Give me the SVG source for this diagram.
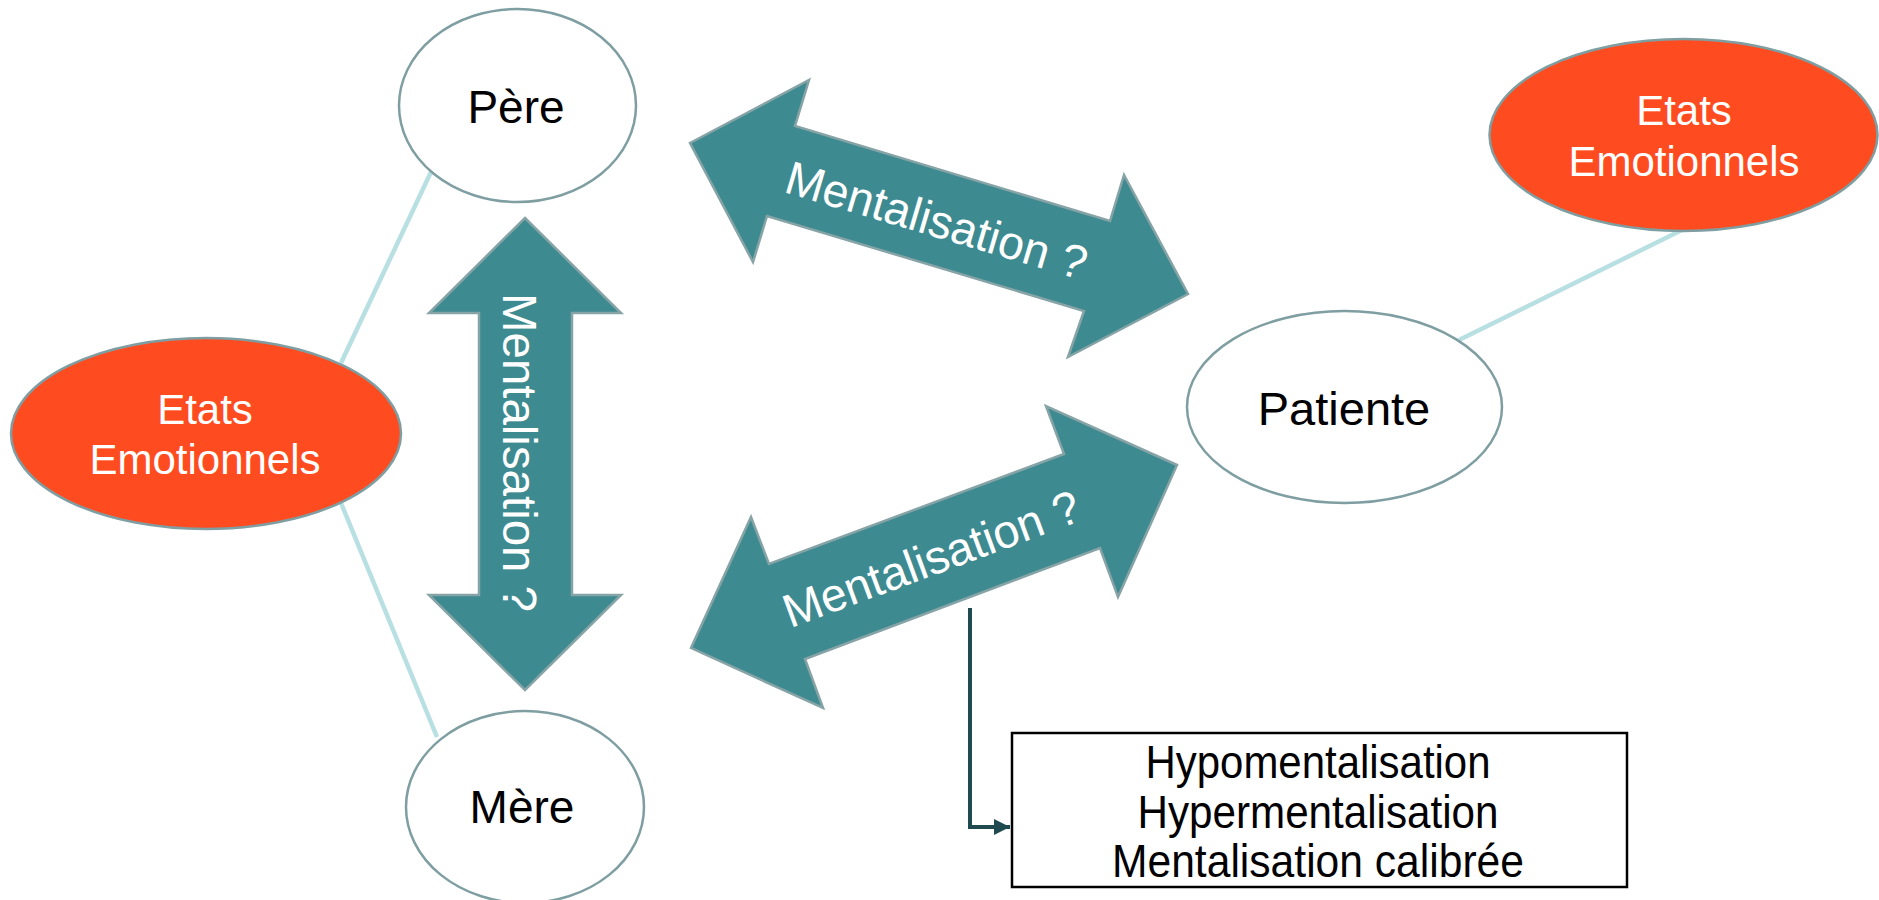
<svg xmlns="http://www.w3.org/2000/svg" width="1879" height="900" viewBox="0 0 1879 900">
<defs>
<style>
.bg{fill:#ffffff}
.node{fill:#ffffff;stroke:#7f9ea2;stroke-width:2.5}
.emo{fill:#ff4b20;stroke:#7f9ea2;stroke-width:2.5}
.link{stroke:#b8e0e3;stroke-width:4.5;fill:none}
.big{fill:#3e8a91;stroke:#86a3a6;stroke-width:2.5;stroke-linejoin:miter}
.t{font-family:"Liberation Sans",Arial,sans-serif;text-anchor:middle}
.dark{fill:#000000}
.white{fill:#ffffff}
.conn{stroke:#1f4a50;stroke-width:4;fill:none}
.box{fill:#ffffff;stroke:#000000;stroke-width:2.5}
</style>
<marker id="ah" viewBox="0 0 10 10" refX="10" refY="5" markerWidth="4.5" markerHeight="4" markerUnits="strokeWidth" orient="auto">
<path d="M0,0 L10,5 L0,10 z" fill="#1f4a50"/>
</marker>
</defs>
<rect class="bg" x="0" y="0" width="1879" height="900"/>

<g id="connectors">
<line class="link" x1="431" y1="172" x2="341" y2="363"/>
<line class="link" x1="341" y1="503" x2="437" y2="737"/>
<line class="link" x1="1684" y1="229" x2="1459" y2="340"/>

<g id="arrow-pere-mere">
<polygon class="big" points="525,218 621,313 572,313 572,595 621,595 525,690 429,595 479,595 479,313 429,313"/>
<text class="t white" font-size="48" transform="translate(503,452.5) rotate(90)" textLength="319" lengthAdjust="spacingAndGlyphs">Mentalisation ?</text>
</g>
<g id="arrow-pere-patiente">
<polygon class="big" points="690,143 809,80 795,126 1110,221 1124,175 1188,294 1068,357 1084,311 767,216 753,262"/>
<text class="t white" font-size="47" transform="translate(932,236) rotate(16.5)" textLength="312" lengthAdjust="spacingAndGlyphs">Mentalisation ?</text>
</g>
<g id="arrow-mere-patiente">
<polygon class="big" points="1177,465 1046,406 1064,454 769,564 751,517 691,648 823,708 805,659 1100,548 1118,597"/>
<text class="t white" font-size="47" transform="translate(937,574) rotate(-20.3)" textLength="313" lengthAdjust="spacingAndGlyphs">Mentalisation ?</text>
</g>
<polyline class="conn" points="970,608 970,827 1010,827" marker-end="url(#ah)"/>
</g>

<g id="pere">
<ellipse class="node" cx="517.5" cy="105.5" rx="118.5" ry="96.5"/>
<text class="t dark" x="516" y="123" font-size="46">Père</text>
</g>

<g id="mere">
<ellipse class="node" cx="525" cy="807" rx="119" ry="96"/>
<text class="t dark" x="522" y="823" font-size="46">Mère</text>
</g>

<g id="etats-left">
<ellipse class="emo" cx="206" cy="433.5" rx="195" ry="95.5"/>
<text class="t white" x="205" y="424" font-size="42">Etats</text>
<text class="t white" x="205" y="474" font-size="42">Emotionnels</text>
</g>

<g id="patiente">
<ellipse class="node" cx="1344.5" cy="407" rx="157.5" ry="96"/>
<text class="t dark" x="1344" y="425" font-size="47">Patiente</text>
</g>

<g id="etats-right">
<ellipse class="emo" cx="1683.5" cy="135" rx="194" ry="96"/>
<text class="t white" x="1684" y="125" font-size="42">Etats</text>
<text class="t white" x="1684" y="176" font-size="42">Emotionnels</text>
</g>

<g id="box">
<rect class="box" x="1012" y="733" width="615" height="154"/>
<text class="t dark" x="1318" y="778" font-size="47" textLength="345" lengthAdjust="spacingAndGlyphs">Hypomentalisation</text>
<text class="t dark" x="1318" y="828" font-size="47" textLength="361" lengthAdjust="spacingAndGlyphs">Hypermentalisation</text>
<text class="t dark" x="1318" y="877" font-size="47" textLength="412" lengthAdjust="spacingAndGlyphs">Mentalisation calibrée</text>
</g>
</svg>
